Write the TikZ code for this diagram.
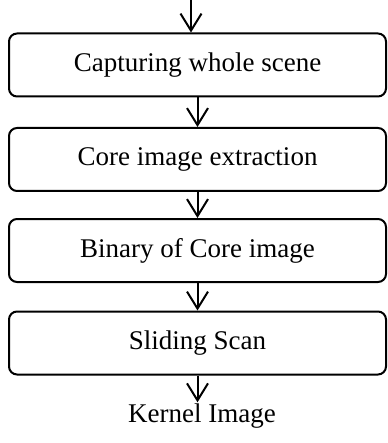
\documentclass[tikz,border=0pt]{standalone}
\usepackage{fontspec}
\setmainfont{Liberation Serif}
\usetikzlibrary{arrows.meta}
\begin{document}
\begin{tikzpicture}[x=1pt, y=-1pt, line width=2pt, >={Straight Barb[length=17pt,width=21pt]}]
    \tikzstyle{every node}=[inner sep=0pt, font=\fontsize{27}{32}\selectfont];
    \tikzstyle{stage}=[draw, rounded corners=8pt, minimum width=377pt, minimum height=63pt];

    \useasboundingbox (0,0) rectangle (387,443);

    \coordinate (in) at (191, 0);
    \node at (197.5,  65.0) (b1) [stage] {Capturing whole scene};
    \node at (197.5, 159.5) (b2) [stage] {Core image extraction};
    \node at (197.5, 250.5) (b3) [stage] {Binary of Core image};
    \node at (197.5, 343.0) (b4) [stage] {Sliding Scan};
    \node at (202.0, 422.0) (k) [anchor=base] {Kernel Image};

    \draw[->] (in) -- (in |- b1.north);
    \draw[->] (b1)
        edge (b2)
        (b2) edge (b3)
        (b3) edge (b4);
    \draw[->] (b4.south) -- (b4.south |- k.north);
\end{tikzpicture}
\end{document}
